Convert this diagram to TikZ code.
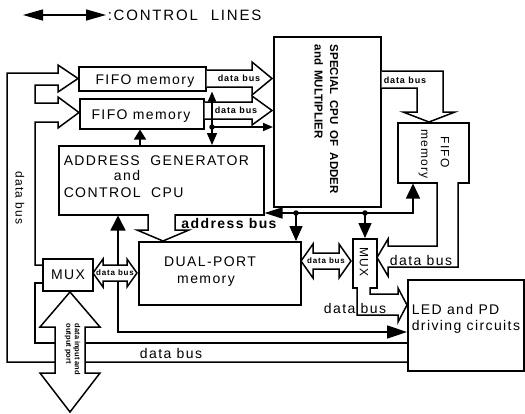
\documentclass[tikz,border=0pt]{standalone}
\usepackage{fontspec}
\setmainfont{Liberation Sans}[LetterSpace=10]
\newfontfamily\legfont{Liberation Sans}[LetterSpace=12]
\newfontfamily\plainfont{Liberation Sans}
\usetikzlibrary{arrows.meta}
\begin{document}
\begin{tikzpicture}[x=1pt,y=-1pt,line width=1.5pt,line join=miter,
  box/.style={draw,inner sep=0pt,anchor=north west},
  txt/.style={inner sep=0pt,font=\fontsize{14}{16}\selectfont},
  stxt/.style={inner sep=0pt,font=\fontsize{12}{14}\selectfont},
  lbl/.style={inner sep=0pt,font=\bfseries\fontsize{9}{10}\selectfont},
  tlbl/.style={inner sep=0pt,font=\bfseries\fontsize{8}{9}\selectfont},
  bus/.style={draw,fill=white},
  ctl/.style={-{Triangle[length=15pt,width=13pt]}},
  ctls/.style={-{Triangle[length=10pt,width=8pt]}},
  jdot/.style={circle,fill,inner sep=0pt,minimum size=5.5pt}]

\fill[white] (0,0) rectangle (525,413);
\useasboundingbox (0,0) rectangle (525,413);

% legend
\coordinate (lgA) at (23,15);
\coordinate (lgB) at (106,15);
\draw[{Triangle[length=20pt,width=11pt]}-{Triangle[length=20pt,width=11pt]}] (lgA) -- (lgB);
\node[anchor=base west,inner sep=0pt,font=\legfont\fontsize{15}{17}\selectfont] (leg) at (107,20.5) {:CONTROL\hspace{13pt}LINES};

% boxes
\node[box,minimum width=127pt,minimum height=24pt] (fifoA) at (78,66) {};
\node[box,minimum width=124pt,minimum height=30pt] (fifoB) at (79,98) {};
\node[box,minimum width=107pt,minimum height=170pt] (cpu) at (273,36) {};
\node[box,minimum width=71pt,minimum height=60pt] (fifoC) at (397,122) {};
\node[box,minimum width=205pt,minimum height=69pt] (addr) at (58,145) {};
\node[box,minimum width=162pt,minimum height=63pt] (dual) at (138,241) {};
\node[box,minimum width=50pt,minimum height=32pt] (muxA) at (42,258) {};
\node[box,minimum width=24pt,minimum height=49pt] (muxB) at (352,238) {};
\node[box,minimum width=116pt,minimum height=91pt] (led) at (407,279) {};

% box texts
\node[txt,anchor=base] (tA) at (145,84) {FIFO memory};
\node[txt,anchor=base] (tB) at (141,119) {FIFO memory};
\node[txt,anchor=base west] (tC1) at (63,165) {ADDRESS\ \ GENERATOR};
\node[txt,anchor=base] (tC2) at (127,180) {and};
\node[txt,anchor=base west] (tC3) at (63,197) {CONTROL\ \ CPU};
\node[inner sep=0pt,rotate=-90,anchor=north west,align=left,
      font=\plainfont\bfseries\fontsize{11.5}{15.5}\selectfont] (tcpu) at (339,44)
      {SPECIAL\hspace{6pt}CPU\hspace{6pt}OF\hspace{6pt}ADDER\\and\hspace{5pt}MULTIPLIER};
\node[stxt,rotate=-90] (tF1) at (445,152) {FIFO};
\node[stxt,rotate=-90] (tF2) at (423,154) {memory};
\node[txt,anchor=base] (tD1) at (210,266) {DUAL-PORT};
\node[txt,anchor=base] (tD2) at (206,283) {memory};
\node[txt,anchor=base] (tMA) at (68,279) {MUX};
\node[stxt,rotate=-90] (tMB) at (364,262) {MUX};
\node[txt,anchor=base west] (tL1) at (411,314) {LED and PD};
\node[txt,anchor=base west] (tL2) at (411,330) {driving circuits};

% control line under the MUX/DUAL-PORT bus
\coordinate (c4) at (118,332);
\draw[{Triangle[length=15pt,width=15pt]}-{Triangle[length=20pt,width=13pt]}]
  (addr.south -| c4) -- (c4) -- (led.west |- c4);

% left data bus
\draw (led.west |- 0,362) -- (7,362) -- (7,73) -- (58,73) -- (58,65) -- (78,78.5)
  -- (58,92) -- (58,85) -- (35,85) -- (35,103) -- (58,103) -- (58,97) -- (79,112.5)
  -- (58,128) -- (58,122) -- (35,122) -- (35,265) -- (muxA.west |- 0,265);
\draw (muxA.west |- 0,283) -- (35,283) -- (35,343) -- (led.west |- 0,343);
\node[stxt,rotate=-90] (lbL) at (20,198) {data bus};
\node[txt,anchor=base] (lbB) at (171,358) {data bus};

% data input / output port
\draw[bus] (70,292) -- (100,327) -- (85,327) -- (85,373) -- (100,373) -- (70,412)
  -- (40,373) -- (55,373) -- (55,327) -- (40,327) -- cycle;
\node[inner sep=0pt,rotate=-90,anchor=north west,align=left,
      font=\plainfont\bfseries\fontsize{7.5}{8.5}\selectfont] (lbIO) at (81,323)
      {data input and\\output port};

% FIFO -> CPU buses
\draw[bus] (fifoA.east |- 0,70) -- (252,70) -- (252,62) -- (272,78.5) -- (252,95)
  -- (252,87) -- (fifoA.east |- 0,87);
\node[lbl] (lbA) at (239,78) {data bus};
\draw[bus] (fifoB.east |- 0,102) -- (252,102) -- (252,96) -- (272,110.5) -- (252,125)
  -- (252,119) -- (fifoB.east |- 0,119);
\node[lbl] (lbA2) at (236,110) {data bus};

% CPU -> FIFO3 bus
\draw[bus] (cpu.east |- 0,71) -- (443,71) -- (443,112) -- (455,112) -- (429,122)
  -- (403,112) -- (417,112) -- (417,88) -- (cpu.east |- 0,88);
\node[lbl] (lbC) at (405,80) {data bus};

% FIFO3 -> MUX2 bus
\draw[bus] (437,182) -- (437,246) -- (388,246) -- (388,239) -- (377,257.5) -- (388,276)
  -- (388,267) -- (458,267) -- (458,182);
\node[txt,anchor=base] (lbD) at (421,265) {data bus};

% MUX2 -> LED bus
\draw[bus] (370,287) -- (370,294) -- (398,294) -- (398,288) -- (407,305) -- (398,322)
  -- (398,315) -- (357,315) -- (357,287);
\node[txt,anchor=base] (lbE) at (355,313) {data bus};

% address bus
\draw[bus] (148,214) -- (148,230) -- (137,230) -- (163,241) -- (189,230) -- (175,230) -- (175,214);
\node[inner sep=0pt,anchor=base,font=\bfseries\fontsize{14}{16}\selectfont] (lbAB) at (229,228) {address bus};

% MUX1 <-> DUAL-PORT
\draw[bus] (93,273) -- (103,259) -- (103,265) -- (127,265) -- (127,259) -- (137,273)
  -- (127,287) -- (127,281) -- (103,281) -- (103,287) -- cycle;
\node[tlbl] (lbM) at (115,273) {data bus};

% DUAL-PORT <-> MUX2
\draw[bus] (301,261) -- (313,244) -- (313,253) -- (339,253) -- (339,244) -- (351,261)
  -- (339,278) -- (339,269) -- (313,269) -- (313,278) -- cycle;
\node[tlbl] (lbN) at (326,261) {data bus};

% control lines
\coordinate (d1) at (212,127);
\coordinate (d2) at (296,213);
\coordinate (d3) at (365,213);
\coordinate (c3r) at (413,213);
\coordinate (c2a) at (140,145);
\draw[ctls] (d1) -- (fifoA.south -| d1);
\draw[ctls] (d1) -- (cpu.west |- d1);
\draw[-{Triangle[length=12pt,width=10pt]}] (d1) -- (addr.north -| d1);
\draw[-{Triangle[length=10pt,width=12pt]}] (c2a) -- (fifoB.south -| c2a);
\draw[{Triangle[length=18pt,width=11pt]}-{Triangle[length=15pt,width=14pt]}]
  (addr.east |- d2) -- (c3r) -- (fifoC.south -| c3r);
\draw[ctl] (d2) -- (dual.north -| d2);
\draw[ctl] (d3) -- (muxB.north -| d3);
\node[jdot] (j1) at (d1) {};
\node[jdot] (j2) at (d2) {};
\node[jdot] (j3) at (d3) {};
\end{tikzpicture}
\end{document}
